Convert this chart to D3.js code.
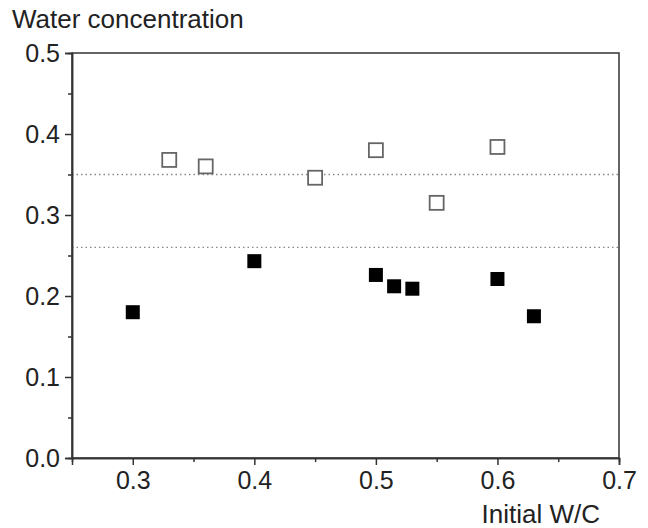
<!DOCTYPE html>
<html>
<head>
<meta charset="utf-8">
<script src="https://cdnjs.cloudflare.com/ajax/libs/d3/7.8.5/d3.min.js"></script>
<style>
  body { margin: 0; background: #fff; }
  text { font-family: "Liberation Sans", Arial, sans-serif; fill: #222; }
</style>
</head>
<body>
<div id="chart"></div>
<script>
// open squares (upper group)
var openX = [0.33, 0.36, 0.45, 0.50, 0.55, 0.60];
var openY = [0.368, 0.360, 0.346, 0.380, 0.315, 0.384];
// filled squares (lower group)
var filledX = [0.30, 0.40, 0.50, 0.515, 0.53, 0.60, 0.63];
var filledY = [0.180, 0.243, 0.226, 0.212, 0.209, 0.221, 0.175];
// dotted reference levels
var refLevels = [0.35, 0.26];
var xTicks = [0.3, 0.4, 0.5, 0.6, 0.7];
var yTicks = [0.0, 0.1, 0.2, 0.3, 0.4, 0.5];

var width = 648, height = 528;
var margin = {top: 53, right: 29, bottom: 70, left: 72};

var svg = d3.select("#chart").append("svg")
    .attr("width", width)
    .attr("height", height);

var x = d3.scaleLinear().domain([0.25, 0.7]).range([margin.left, width - margin.right]);
var y = d3.scaleLinear().domain([0, 0.5]).range([height - margin.bottom, margin.top]);

// reference lines
svg.selectAll(".ref")
    .data(refLevels)
    .enter().append("line")
    .attr("x1", x(0.25)).attr("x2", x(0.7))
    .attr("y1", function(d) { return y(d); })
    .attr("y2", function(d) { return y(d); })
    .attr("stroke", "#888")
    .attr("stroke-width", 1.3)
    .attr("stroke-dasharray", "1.5,3");

// frame
svg.append("rect")
    .attr("x", x(0.25)).attr("y", y(0.5))
    .attr("width", x(0.7) - x(0.25))
    .attr("height", y(0) - y(0.5))
    .attr("fill", "none")
    .attr("stroke", "#333")
    .attr("stroke-width", 1.5);

// axes
svg.append("g")
    .attr("transform", "translate(0," + y(0) + ")")
    .call(d3.axisBottom(x).tickValues(xTicks).tickSize(7).tickPadding(6).tickFormat(d3.format(".1f")));
svg.append("g")
    .attr("transform", "translate(0," + y(0) + ")")
    .call(d3.axisBottom(x).tickValues([0.35, 0.45, 0.55, 0.65]).tickSize(4).tickFormat(""));
svg.append("g")
    .attr("transform", "translate(" + x(0.25) + ",0)")
    .call(d3.axisLeft(y).tickValues(yTicks).tickSize(7).tickPadding(5).tickFormat(d3.format(".1f")));
svg.append("g")
    .attr("transform", "translate(" + x(0.25) + ",0)")
    .call(d3.axisLeft(y).tickValues([0.05, 0.15, 0.25, 0.35, 0.45]).tickSize(4).tickFormat(""));

svg.selectAll(".domain").attr("stroke", "#333").attr("stroke-width", 1.5);
svg.selectAll(".tick line").attr("stroke", "#333").attr("stroke-width", 1.5);
svg.selectAll(".tick text")
    .attr("font-family", "Liberation Sans, Arial, sans-serif")
    .attr("font-size", 25)
    .attr("fill", "#222");

// points
var s = 14;
svg.selectAll(".open")
    .data(d3.zip(openX, openY))
    .enter().append("rect")
    .attr("x", function(d) { return x(d[0]) - s / 2; })
    .attr("y", function(d) { return y(d[1]) - s / 2; })
    .attr("width", s).attr("height", s)
    .attr("fill", "#fff")
    .attr("stroke", "#666")
    .attr("stroke-width", 1.8);

svg.selectAll(".filled")
    .data(d3.zip(filledX, filledY))
    .enter().append("rect")
    .attr("x", function(d) { return x(d[0]) - s / 2; })
    .attr("y", function(d) { return y(d[1]) - s / 2; })
    .attr("width", s).attr("height", s)
    .attr("fill", "#000");

// axis titles
svg.append("text")
    .attr("x", 12).attr("y", 28)
    .attr("font-size", 26)
    .text("Water concentration");
svg.append("text")
    .attr("x", 600).attr("y", 523)
    .attr("text-anchor", "end")
    .attr("font-size", 26)
    .text("Initial W/C");
</script>
</body>
</html>
